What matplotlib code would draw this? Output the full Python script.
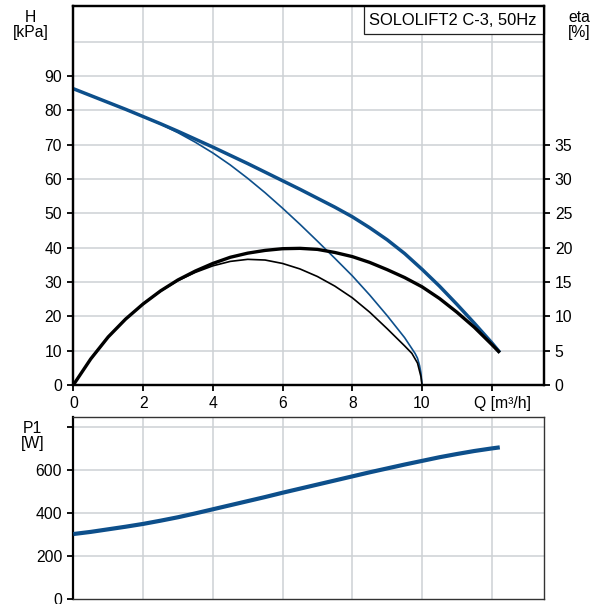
import numpy as np
import matplotlib
matplotlib.use('Agg')
import matplotlib.pyplot as plt
from matplotlib.patches import Rectangle

plt.rcParams['font.family'] = ['Liberation Sans', 'DejaVu Sans']

# head curves [kPa]
q_h_max = [0, 0.5, 1, 1.5, 2, 2.5, 3, 3.5, 4, 4.5, 5, 5.5, 6, 6.5, 7, 7.5, 8, 8.5, 9, 9.5,
           10, 10.5, 11, 11.5, 12, 12.23]
h_max = [86.3, 84.3, 82.3, 80.3, 78.2, 76.1, 73.9, 71.6, 69.3, 66.9, 64.5, 62.0, 59.5, 57.0,
         54.4, 51.8, 49.0, 45.8, 42.3, 38.3, 33.7, 28.8, 23.5, 18.0, 12.3, 9.5]
q_h_min = [0, 0.5, 1, 1.5, 2, 2.5, 3, 3.5, 4, 4.5, 5, 5.5, 6, 6.5, 7, 7.5, 8, 8.5, 9, 9.5,
           9.8, 9.87, 9.93, 9.97, 10.0]
h_min = [86.3, 84.3, 82.3, 80.3, 78.2, 76.0, 73.5, 70.7, 67.6, 64.1, 60.2, 56.0, 51.5, 46.8,
         41.9, 36.9, 31.8, 26.2, 20.2, 13.8, 9.2, 7.8, 5.6, 3.4, 0.0]

# efficiency curves [%]
q_eta_max = [0, 0.5, 1, 1.5, 2, 2.5, 3, 3.5, 4, 4.5, 5, 5.5, 6, 6.5, 7, 7.5, 8, 8.5, 9, 9.5,
             10, 10.5, 11, 11.5, 12, 12.23]
eta_max = [0, 3.8, 7.0, 9.6, 11.8, 13.7, 15.3, 16.6, 17.7, 18.6, 19.2, 19.6, 19.85, 19.9,
           19.75, 19.3, 18.7, 17.85, 16.8, 15.65, 14.3, 12.6, 10.6, 8.4, 5.9, 4.7]
q_eta_min = [0, 0.5, 1, 1.5, 2, 2.5, 3, 3.5, 4, 4.5, 5, 5.5, 6, 6.5, 7, 7.5, 8, 8.5, 9, 9.28,
             9.5, 9.71, 9.87, 9.97, 10.0]
eta_min = [0, 3.8, 7.0, 9.6, 11.8, 13.65, 15.2, 16.4, 17.35, 18.0, 18.3, 18.2, 17.7, 16.9,
           15.8, 14.4, 12.7, 10.6, 8.2, 6.8, 5.7, 4.6, 3.2, 1.2, 0.0]

# power input [W]
q_p1 = [0, 0.5, 1, 1.5, 2, 2.5, 3, 3.5, 4, 4.5, 5, 5.5, 6, 6.5, 7, 7.5, 8, 8.5, 9, 9.5,
        10, 10.5, 11, 11.5, 12, 12.23]
p1 = [302, 312, 324, 336, 349, 364, 380, 398, 417, 436, 455, 474, 494, 513, 532, 551, 570,
      589, 607, 625, 642, 659, 674, 688, 700, 705]

q_ticks = [0, 2, 4, 6, 8, 10, 12]
q_labels = ['0', '2', '4', '6', '8', '10', '']
h_ticks = [0, 10, 20, 30, 40, 50, 60, 70, 80, 90]
eta_ticks = [0, 5, 10, 15, 20, 25, 30, 35]
p1_ticks = [0, 200, 400, 600, 800]
p1_labels = ['0', '200', '400', '600', '']

title = 'SOLOLIFT2 C-3, 50Hz'

blue = '#0d4f8b'
grid_c = '#cdd1d4'
fs = 11.3

fig = plt.figure(figsize=(6.02, 6.04), dpi=100)
ax = fig.add_axes([0.1218, 0.3626, 0.7814, 0.6275])
ax2 = ax.twinx()
axp = fig.add_axes([0.1218, 0.00828, 0.7814, 0.3013])

xmax = 13.49
ax.set_xlim(0, xmax)
ax.set_ylim(0, 110.4)
ax2.set_ylim(0, 55.2)

# grid, drawn by hand so 100 kPa line shows without a tick
for q in q_ticks[1:]:
    ax.axvline(q, color=grid_c, lw=1.1, zorder=0)
for h in h_ticks[1:] + [100]:
    ax.axhline(h, color=grid_c, lw=1.1, zorder=0)

ax.plot(q_h_max, h_max, color=blue, lw=2.5, solid_capstyle='butt', zorder=3)
ax.plot(q_h_min, h_min, color=blue, lw=1.2, zorder=3)
ax2.plot(q_eta_max, eta_max, color='black', lw=2.4, solid_capstyle='butt', zorder=3)
ax2.plot(q_eta_min, eta_min, color='black', lw=1.2, zorder=3)

ax.set_xticks(q_ticks)
ax.set_xticklabels(q_labels)
ax.set_yticks(h_ticks)
ax2.set_yticks(eta_ticks)
for a in (ax, ax2):
    a.tick_params(direction='out', length=4.5, width=1.3, labelsize=fs, pad=3.5, colors='black')
    for s in a.spines.values():
        s.set_linewidth(1.6)
        s.set_color('black')

ax.annotate('Q [m³/h]', xy=(12, 0), xycoords=('data', 'axes fraction'),
            xytext=(-12.5, -8), textcoords='offset points', ha='left', va='top', fontsize=fs)

# model label box
ax.add_patch(Rectangle((0.6177, 0.926), 1 - 0.6177, 0.074, transform=ax.transAxes,
                       facecolor='white', edgecolor='#222222', lw=0.9, zorder=4, clip_on=False))
ax.text(0.6285, 0.963, title, transform=ax.transAxes, ha='left', va='center', fontsize=11.9, zorder=5)

fig.text(30.5 / 602, 1 - 24.5 / 604, 'H\n[kPa]', ha='center', va='center', fontsize=fs, linespacing=1.0)
fig.text(579 / 602, 1 - 25 / 604, 'eta\n[%]', ha='center', va='center', fontsize=fs, linespacing=1.0)
fig.text(32.5 / 602, 1 - 435.7 / 604, 'P1\n[W]', ha='center', va='center', fontsize=fs, linespacing=1.0)

# power panel
axp.set_xlim(0, xmax)
axp.set_ylim(0, 846)
for q in q_ticks[1:]:
    axp.axvline(q, color=grid_c, lw=1.1, zorder=0)
for p in p1_ticks[1:]:
    axp.axhline(p, color=grid_c, lw=1.1, zorder=0)
axp.plot(q_p1, p1, color=blue, lw=3.0, solid_capstyle='butt', zorder=3)
axp.set_xticks(q_ticks)
axp.tick_params(axis='x', length=0, labelbottom=False)
axp.set_yticks(p1_ticks)
axp.set_yticklabels(p1_labels)
axp.tick_params(axis='y', direction='out', length=4.5, width=1.3, labelsize=fs, pad=3.5)
for name, s in axp.spines.items():
    s.set_color('black' if name == 'left' else '#333333')
    s.set_linewidth(1.6 if name == 'left' else 1.0)

fig.savefig('out.png', dpi=100)
